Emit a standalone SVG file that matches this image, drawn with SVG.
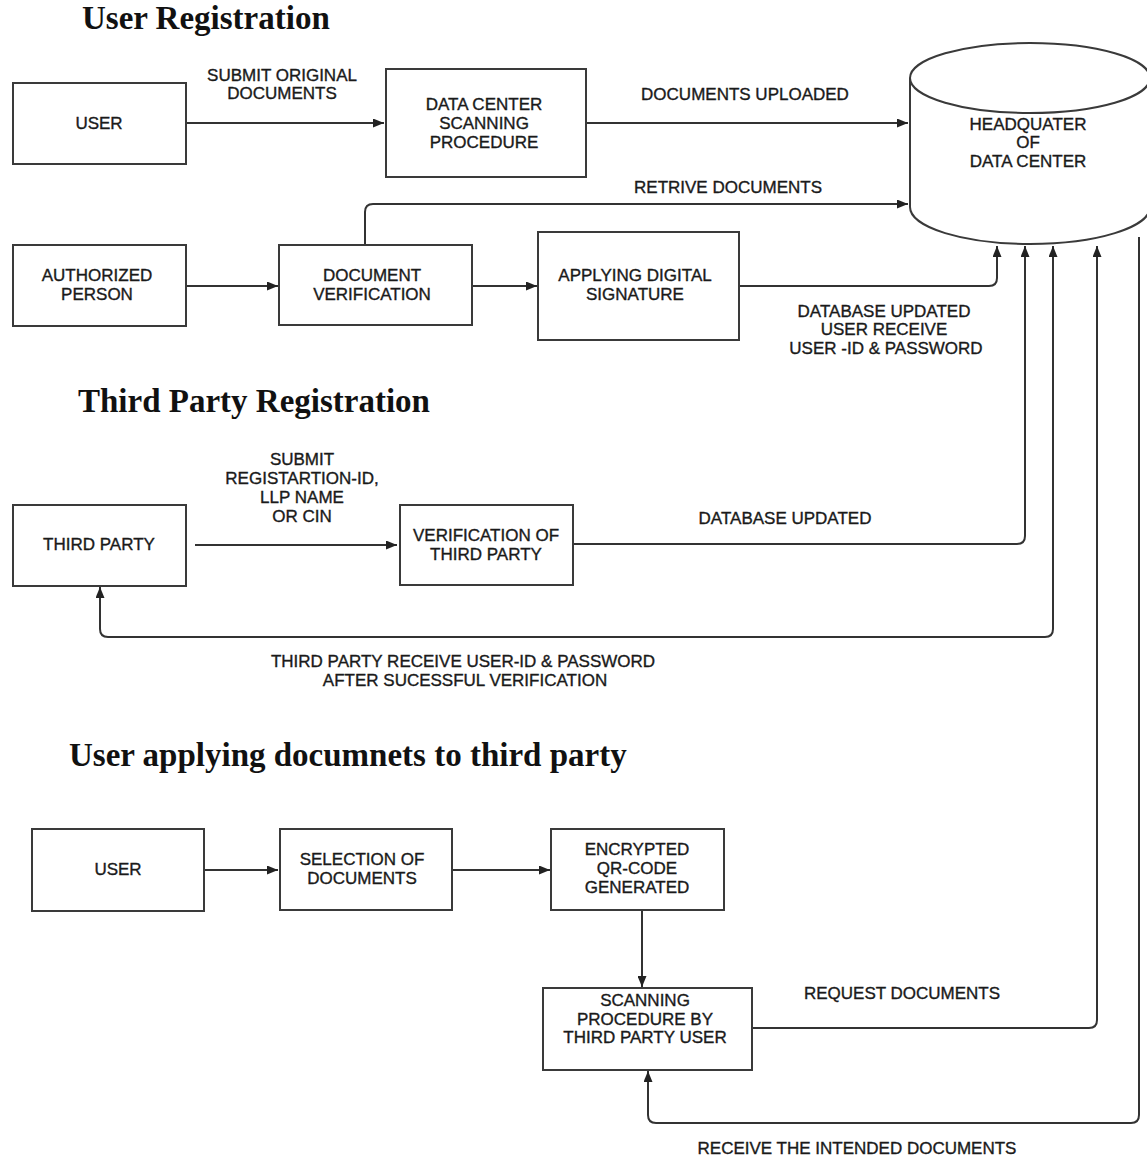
<svg xmlns="http://www.w3.org/2000/svg" width="1147" height="1158" viewBox="0 0 1147 1158">
<style>
.box{fill:#fff;stroke:#3a3a3a;stroke-width:2}
.lbl{font-family:"Liberation Sans",Arial,sans-serif;font-size:17px;fill:#1a1a1a;stroke:#1a1a1a;stroke-width:0.35;text-anchor:middle}
.ttl{font-family:"Liberation Serif","Times New Roman",serif;font-size:33px;font-weight:bold;fill:#111}
.edge{fill:none;stroke:#333;stroke-width:2}
</style>
<defs>
<marker id="arr" viewBox="0 0 11 9" refX="11" refY="4.5" markerWidth="11" markerHeight="9" markerUnits="userSpaceOnUse" orient="auto-start-reverse">
<path d="M0,0 L11,4.5 L0,9 Z" fill="#222"/>
</marker>
</defs>
<rect width="1147" height="1158" fill="#fff"/>

<text class="ttl" x="82" y="29">User Registration</text>
<text class="ttl" x="78" y="412">Third Party Registration</text>
<text class="ttl" x="69" y="766">User applying documnets to third party</text>

<g id="connectors">
<path class="edge" d="M186,123 H384" marker-end="url(#arr)"/>
<path class="edge" d="M587,123 H908" marker-end="url(#arr)"/>
<path class="edge" d="M365,245 V212 Q365,204 373,204 H908" marker-end="url(#arr)"/>
<path class="edge" d="M186,286 H278" marker-end="url(#arr)"/>
<path class="edge" d="M472,286 H537" marker-end="url(#arr)"/>
<path class="edge" d="M739,286 H989 Q997,286 997,278 V246" marker-end="url(#arr)"/>
<path class="edge" d="M195,545 H397" marker-end="url(#arr)"/>
<path class="edge" d="M573,544 H1017 Q1025,544 1025,536 V246" marker-end="url(#arr)"/>
<path class="edge" d="M1053,246 V629 Q1053,637 1045,637 H108 Q100,637 100,629 V587" marker-start="url(#arr)" marker-end="url(#arr)"/>
<path class="edge" d="M205,870 H278" marker-end="url(#arr)"/>
<path class="edge" d="M452,870 H550" marker-end="url(#arr)"/>
<path class="edge" d="M642,910 V987" marker-end="url(#arr)"/>
<path class="edge" d="M753,1028 H1089 Q1097,1028 1097,1020 V246" marker-end="url(#arr)"/>
<path class="edge" d="M1139,237 V1115 Q1139,1123 1131,1123 H656 Q648,1123 648,1115 V1071" marker-end="url(#arr)"/>
<text class="lbl" x="282" y="81">SUBMIT ORIGINAL</text>
<text class="lbl" x="282" y="99">DOCUMENTS</text>
<text class="lbl" x="745" y="100">DOCUMENTS UPLOADED</text>
<text class="lbl" x="728" y="193">RETRIVE DOCUMENTS</text>
<text class="lbl" x="884" y="317">DATABASE UPDATED</text>
<text class="lbl" x="884" y="335">USER RECEIVE</text>
<text class="lbl" x="886" y="354">USER -ID &amp; PASSWORD</text>
<text class="lbl" x="302" y="465">SUBMIT</text>
<text class="lbl" x="302" y="484">REGISTARTION-ID,</text>
<text class="lbl" x="302" y="503">LLP NAME</text>
<text class="lbl" x="302" y="522">OR CIN</text>
<text class="lbl" x="785" y="524">DATABASE UPDATED</text>
<text class="lbl" x="463" y="667">THIRD PARTY RECEIVE USER-ID &amp; PASSWORD</text>
<text class="lbl" x="465" y="686">AFTER SUCESSFUL VERIFICATION</text>
<text class="lbl" x="902" y="999">REQUEST DOCUMENTS</text>
<text class="lbl" x="857" y="1154">RECEIVE THE INTENDED DOCUMENTS</text>
</g>

<g id="hq">
<path d="M910,78 A120,35 0 0 1 1150,78 V207 A120,37 0 0 1 910,207 Z" fill="#fff" stroke="#3a3a3a" stroke-width="2"/>
<path d="M910,78 A120,35 0 0 0 1150,78" fill="none" stroke="#3a3a3a" stroke-width="2"/>
<text class="lbl" x="1028" y="130">HEADQUATER</text>
<text class="lbl" x="1028" y="148">OF</text>
<text class="lbl" x="1028" y="167">DATA CENTER</text>
</g>

<g id="user1"><rect class="box" x="13" y="83" width="173" height="81"/><text class="lbl" x="99" y="129">USER</text></g>
<g id="dcsp"><rect class="box" x="386" y="69" width="200" height="108"/>
<text class="lbl" x="484" y="110">DATA CENTER</text><text class="lbl" x="484" y="129">SCANNING</text><text class="lbl" x="484" y="148">PROCEDURE</text></g>
<g id="auth"><rect class="box" x="13" y="245" width="173" height="81"/>
<text class="lbl" x="97" y="281">AUTHORIZED</text><text class="lbl" x="97" y="300">PERSON</text></g>
<g id="docver"><rect class="box" x="279" y="245" width="193" height="80"/>
<text class="lbl" x="372" y="281">DOCUMENT</text><text class="lbl" x="372" y="300">VERIFICATION</text></g>
<g id="digsig"><rect class="box" x="538" y="232" width="201" height="108"/>
<text class="lbl" x="635" y="281">APPLYING DIGITAL</text><text class="lbl" x="635" y="300">SIGNATURE</text></g>
<g id="thirdparty"><rect class="box" x="13" y="505" width="173" height="81"/><text class="lbl" x="99" y="550">THIRD PARTY</text></g>
<g id="vtp"><rect class="box" x="400" y="505" width="173" height="80"/>
<text class="lbl" x="486" y="541">VERIFICATION OF</text><text class="lbl" x="486" y="560">THIRD PARTY</text></g>
<g id="user2"><rect class="box" x="32" y="829" width="172" height="82"/><text class="lbl" x="118" y="875">USER</text></g>
<g id="selection"><rect class="box" x="280" y="829" width="172" height="81"/>
<text class="lbl" x="362" y="865">SELECTION OF</text><text class="lbl" x="362" y="884">DOCUMENTS</text></g>
<g id="qrcode"><rect class="box" x="551" y="829" width="173" height="81"/>
<text class="lbl" x="637" y="855">ENCRYPTED</text><text class="lbl" x="637" y="874">QR-CODE</text><text class="lbl" x="637" y="893">GENERATED</text></g>
<g id="scanning"><rect class="box" x="543" y="988" width="209" height="82"/>
<text class="lbl" x="645" y="1006">SCANNING</text><text class="lbl" x="645" y="1025">PROCEDURE BY</text><text class="lbl" x="645" y="1043">THIRD PARTY USER</text></g>
</svg>
